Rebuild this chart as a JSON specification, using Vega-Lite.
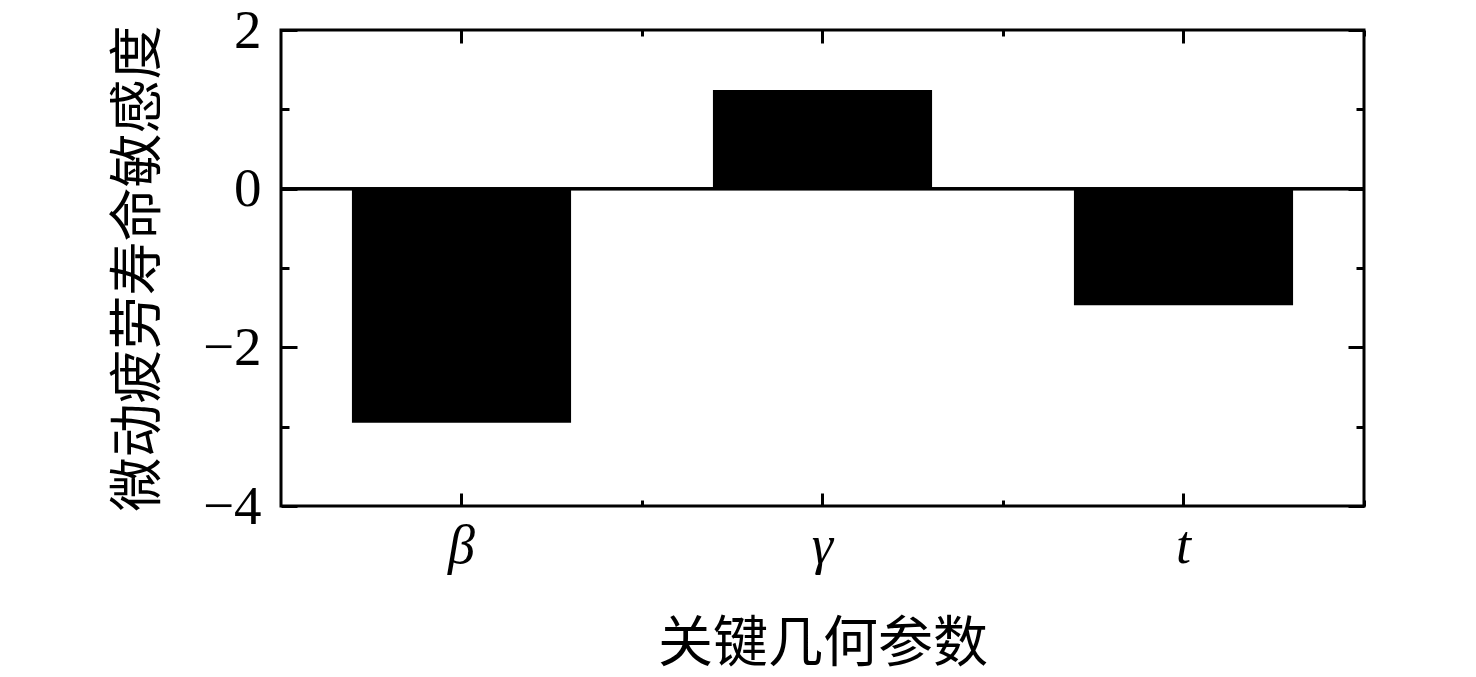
{
  "$schema": "https://vega.github.io/schema/vega-lite/v6.json",
  "width": 1083,
  "height": 476,
  "autosize": {"type": "none"},
  "padding": {"left": 281, "top": 30, "right": 112, "bottom": 171},
  "background": "white",
  "config": {
    "view": {"stroke": "black", "strokeWidth": 3},
    "axis": {"domain": false, "grid": false, "tickColor": "black", "tickWidth": 3, "labelColor": "black", "titleColor": "black", "labelOverlap": false, "labelFlush": false}
  },
  "data": {"values": [
    {"param": "β", "value": -2.95},
    {"param": "γ", "value": 1.245},
    {"param": "t", "value": -1.47}
  ]},
  "layer": [
    {
      "mark": {"type": "bar", "color": "black"},
      "encoding": {
        "x": {"field": "param", "type": "nominal", "sort": null,
          "scale": {"paddingInner": 0.393, "paddingOuter": 0.1965},
          "axis": {"orient": "bottom", "title": "关键几何参数", "titleFont": "Noto Sans CJK SC", "titleFontSize": 55, "titleFontWeight": "normal", "titlePadding": 44,
            "labelFont": "Liberation Serif", "labelFontStyle": "italic", "labelFontSize": 54, "labelAngle": 0, "tickSize": -13, "labelPadding": 26}},
        "y": {"field": "value", "type": "quantitative",
          "scale": {"domain": [-4, 2], "nice": false, "zero": false},
          "axis": {"orient": "left", "values": [-4, -3, -2, -1, 0, 1, 2],
            "tickSize": {"condition": {"test": "datum.value % 2 === 0", "value": -16}, "value": -8},
            "labelExpr": "datum.value % 2 === 0 ? datum.label : ''",
            "labelFont": "Liberation Serif", "labelFontSize": 55, "labelPadding": 36,
            "title": "微动疲劳寿命敏感度", "titleFont": "Noto Sans CJK SC", "titleFontSize": 54, "titleFontWeight": "normal", "titlePadding": 36}}
      }
    },
    {
      "mark": {"type": "rule", "color": "black", "strokeWidth": 3},
      "encoding": {
        "y": {"datum": 0, "type": "quantitative",
          "axis": {"orient": "right", "values": [-4, -3, -2, -1, 0, 1, 2],
            "tickSize": {"condition": {"test": "datum.value % 2 === 0", "value": -16}, "value": -8},
            "labels": false, "title": null}}
      }
    },
    {
      "mark": {"type": "bar", "opacity": 0},
      "encoding": {
        "x": {"field": "param", "type": "nominal", "sort": null,
          "axis": {"orient": "top", "labels": false, "title": null, "tickSize": -13}},
        "y": {"field": "value", "type": "quantitative", "axis": null}
      }
    },
    {
      "mark": {"type": "bar", "opacity": 0},
      "encoding": {
        "x": {"field": "param", "type": "nominal", "sort": null,
          "axis": {"orient": "bottom", "labels": false, "title": null, "tickSize": -6, "bandPosition": 1.324}},
        "y": {"field": "value", "type": "quantitative", "axis": null}
      }
    },
    {
      "mark": {"type": "bar", "opacity": 0},
      "encoding": {
        "x": {"field": "param", "type": "nominal", "sort": null,
          "axis": {"orient": "top", "labels": false, "title": null, "tickSize": -6, "bandPosition": 1.324}},
        "y": {"field": "value", "type": "quantitative", "axis": null}
      }
    }
  ],
  "resolve": {"axis": {"x": "independent", "y": "independent"}}
}
